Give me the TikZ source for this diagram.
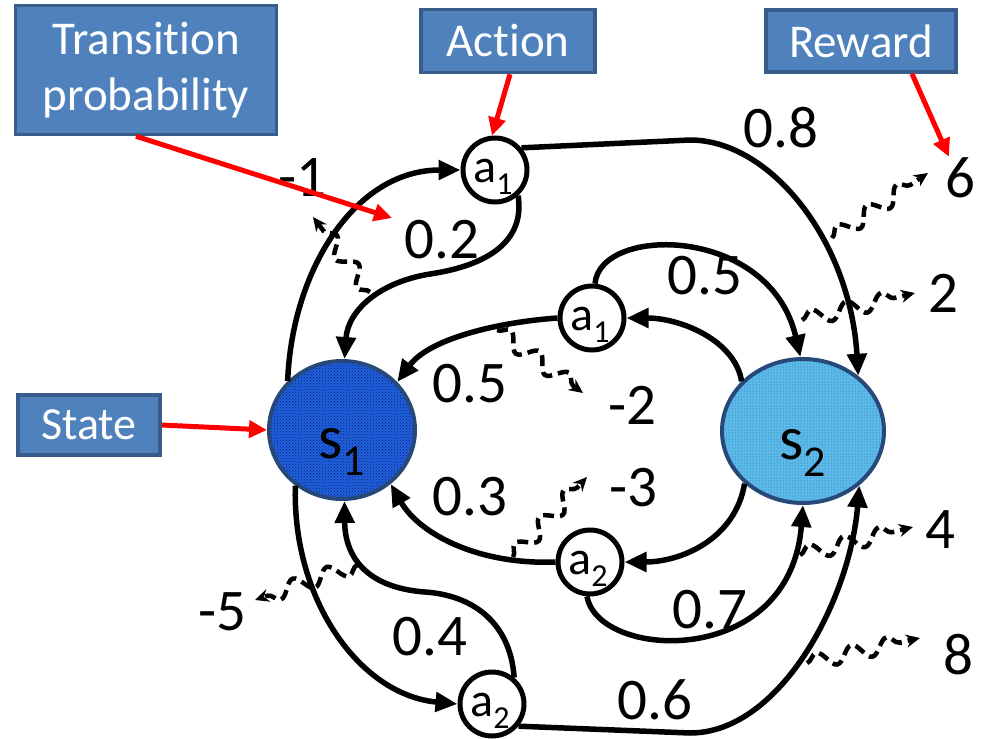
\documentclass[tikz,border=0pt]{standalone}
\usepackage{fontspec}
\setmainfont[Ligatures=NoCommon]{Carlito}
\usetikzlibrary{shapes.geometric,arrows.meta,decorations.pathmorphing,patterns}
\definecolor{boxfill}{HTML}{4F81BD}
\definecolor{boxline}{HTML}{385D8A}
\definecolor{sone}{HTML}{1F5FE0}
\definecolor{sonepat}{HTML}{0A2466}
\definecolor{stwo}{HTML}{5CBBEA}
\definecolor{stwopat}{HTML}{1C5A8A}
\definecolor{sline}{HTML}{26497A}
\newcommand\actlab[1]{a\raisebox{-12pt}{\fontsize{32}{32}\selectfont #1}}
\newcommand\stlab[1]{s\raisebox{-17pt}{\fontsize{44}{44}\selectfont #1}}
\begin{document}
\begin{tikzpicture}[x=1pt,y=-1pt,
  infobox/.style={draw=boxline, line width=3.5pt, fill=boxfill, text=white,
    font=\fontsize{47}{56}\selectfont, align=center, inner sep=0pt},
  act/.style={circle, draw, line width=5pt, fill=white, minimum size=64pt, inner sep=0pt},
  actlbl/.style={anchor=base, yshift=-7pt, xshift=-2pt, inner sep=0pt, font=\fontsize{48}{48}\selectfont},
  stlbl/.style={anchor=base, yshift=-22pt, inner sep=0pt, font=\fontsize{62}{62}\selectfont},
  stnode/.style={ellipse, draw=sline, line width=4pt, inner sep=0pt},
  tr/.style={line width=5.5pt, -{Triangle[length=22pt,width=19pt]}},
  redarr/.style={draw=red, line width=5pt, -{Triangle[length=18pt,width=17pt]}},
  val/.style={font=\fontsize{59}{59}\selectfont, inner sep=0pt},
  rew/.style={line width=4.5pt, dash pattern=on 11pt off 6pt, decorate,
    decoration={snake, amplitude=8pt, segment length=36pt, post length=10pt},
    -{Stealth[length=14pt,width=13pt]}}
]
\fill[white] (0,0) rectangle (986,739);
\useasboundingbox (0,0) rectangle (986,739);

% info boxes
\node[infobox, minimum width=261pt, minimum height=129pt] (tp) at (146,70) {Transition\\probability};
\node[infobox, minimum width=174pt, minimum height=63pt] (actbox) at (508,41) {Action};
\node[infobox, minimum width=190pt, minimum height=62pt] (rewbox) at (861,41) {Reward};
\node[infobox, minimum width=142pt, minimum height=60pt, font=\fontsize{46}{46}\selectfont] (stbox) at (89,425) {State};

% states
\node[stnode, minimum width=146pt, minimum height=138pt, preaction={fill=sone},
      pattern=crosshatch dots, pattern color=sonepat,
      label={[stlbl]center:{\stlab{1}}}] (s1) at (342,430) {};
\node[stnode, minimum width=162pt, minimum height=144pt, preaction={fill=stwo},
      pattern=dots, pattern color=stwopat,
      label={[stlbl]center:{\stlab{2}}}] (s2) at (803,431) {};

% actions
\node[act, label={[actlbl]center:{\actlab{1}}}] (a1t) at (495,170) {};
\node[act, label={[actlbl]center:{\actlab{1}}}] (a1m) at (592,318) {};
\node[act, label={[actlbl]center:{\actlab{2}}}] (a2m) at (590,562) {};
\node[act, label={[actlbl]center:{\actlab{2}}}] (a2b) at (492,704) {};

% transitions
\draw[tr] (s1.138) .. controls (292,270) and (355,170) .. (a1t.west);
\draw[tr] (a1t.-48) .. controls (525,240) and (490,265) .. (430,274)
          .. controls (380,282) and (348,310) .. (s1.88);
\draw[tr] (a1t.40) -- (690,140) .. controls (770,140) and (850,240) .. (s2.45);
\draw[tr] (s2.141) .. controls (735,340) and (680,318) .. (a1m.east);
\draw[tr] (a1m.85) .. controls (600,225) and (770,225) .. (s2.92);
\draw[tr] (a1m.west) .. controls (500,322) and (430,338) .. (s1.41);
\draw[tr] (s2.-138) .. controls (735,540) and (680,562) .. (a2m.east);
\draw[tr] (a2m.west) .. controls (480,565) and (420,535) .. (s1.-48);
\draw[tr] (a2m.-95) .. controls (598,660) and (790,670) .. (s2.-90);
\draw[tr] (s1.-130) .. controls (292,600) and (360,695) .. (a2b.west);
\draw[tr] (a2b.50) .. controls (510,620) and (470,595) .. (425,592)
          .. controls (370,588) and (345,560) .. (s1.-88);
\draw[tr] (a2b.-40) -- (690,733) .. controls (780,733) and (850,600) .. (s2.-44);

% probabilities
\node[val] (p08) at (781,128) {0.8};
\node[val] (p02) at (442,240) {0.2};
\node[val] (p05a) at (705,276) {0.5};
\node[val] (p05b) at (470,384) {0.5};
\node[val] (p03) at (470,497) {0.3};
\node[val] (p07) at (710,610) {0.7};
\node[val] (p04) at (430,637) {0.4};
\node[val] (p06) at (655,700) {0.6};

% rewards
\node[val] (vm1) at (302,178) {-1};
\node[val] (v6) at (960,178) {6};
\node[val] (v2) at (943,293) {2};
\node[val] (vm2) at (632,405) {-2};
\node[val] (vm3) at (633,488) {-3};
\node[val] (v4) at (940,530) {4};
\node[val] (v8) at (958,655) {8};
\node[val] (vm5) at (222,612) {-5};

\coordinate (rm1s) at (370,292); \coordinate (rm1e) at (313,217);
\coordinate (r6s) at (832,238);  \coordinate (r6e) at (928,173);
\coordinate (r2s) at (802,320);  \coordinate (r2e) at (915,293);
\coordinate (rm2s) at (497,330); \coordinate (rm2e) at (583,393);
\coordinate (rm3s) at (513,557); \coordinate (rm3e) at (587,477);
\coordinate (r4s) at (800,555);  \coordinate (r4e) at (913,527);
\coordinate (r8s) at (807,663);  \coordinate (r8e) at (920,638);
\coordinate (rm5s) at (357,565); \coordinate (rm5e) at (255,600);

\draw[rew] (rm1s) -- (rm1e);
\draw[rew] (r6s) -- (r6e);
\draw[rew] (r2s) -- (r2e);
\draw[rew] (rm2s) -- (rm2e);
\draw[rew] (rm3s) -- (rm3e);
\draw[rew] (r4s) -- (r4e);
\draw[rew] (r8s) -- (r8e);
\draw[rew] (rm5s) -- (rm5e);

% red pointers
\coordinate (tptip) at (392,218);
\draw[redarr] ([xshift=-10pt]tp.south) -- (tptip);
\draw[redarr] ([xshift=2pt]actbox.south) -- (a1t.95);
\draw[redarr] ([xshift=51pt]rewbox.south) -- ([xshift=4pt,yshift=1pt]v6.north west);
\draw[redarr] (stbox.east) -- (s1.west);
\end{tikzpicture}
\end{document}
